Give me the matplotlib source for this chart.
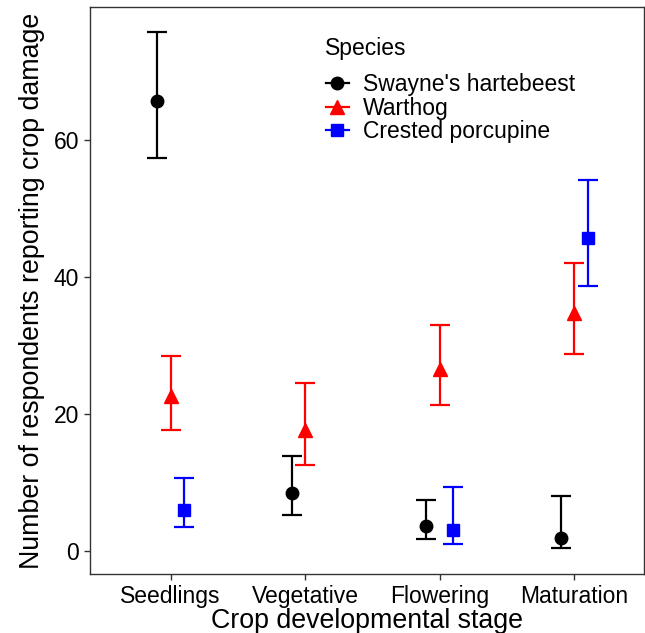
import matplotlib
matplotlib.use('Agg')
import matplotlib.pyplot as plt
import numpy as np
from matplotlib.lines import Line2D

plt.rcParams['font.family'] = ['Liberation Sans', 'DejaVu Sans']

stages = ['Seedlings', 'Vegetative', 'Flowering', 'Maturation']
species = ["Swayne's hartebeest", 'Warthog', 'Crested porcupine']

# means and error bar limits, per species, per stage (nan = not reported)
hartebeest = [65.7, 8.4, 3.6, 1.9]
hartebeest_lo = [57.3, 5.3, 1.7, 0.5]
hartebeest_hi = [75.8, 13.8, 7.4, 8.0]

warthog = [22.6, 17.7, 26.5, 34.7]
warthog_lo = [17.7, 12.6, 21.3, 28.8]
warthog_hi = [28.4, 24.5, 33.0, 42.1]

porcupine = [6.0, np.nan, 3.0, 45.7]
porcupine_lo = [3.5, np.nan, 1.0, 38.7]
porcupine_hi = [10.6, np.nan, 9.3, 54.2]

series = [
    (hartebeest, hartebeest_lo, hartebeest_hi, 'black', 'o', 9, -0.1),
    (warthog, warthog_lo, warthog_hi, 'red', '^', 10, 0.0),
    (porcupine, porcupine_lo, porcupine_hi, 'blue', 's', 8.5, 0.1),
]

fig = plt.figure(figsize=(6.45, 6.33), dpi=100)
ax = fig.add_axes([90/645, 1 - 574/633, 554/645, 567/633])

x = np.arange(1, len(stages) + 1)
handles = []
for (m, lo, hi, col, mk, ms, off) in series:
    m = np.array(m)
    lo = np.array(lo)
    hi = np.array(hi)
    ax.errorbar(x + off, m, yerr=[m - lo, hi - m], fmt='none', ecolor=col,
                elinewidth=1.6, capsize=7.5, capthick=1.6, zorder=2)
    ax.plot(x + off, m, linestyle='none', marker=mk, color=col, markersize=ms, zorder=3)
    handles.append(Line2D([0], [0], color=col, lw=1.6, marker=mk, markersize=ms))

ax.set_xlim(0.4, 4.52)
ax.set_ylim(-3.36, 79.4)
ax.set_xticks(x)
ax.set_xticklabels(stages)
ax.set_yticks([0, 20, 40, 60])

for s in ax.spines.values():
    s.set_color('#333333')
    s.set_linewidth(1.0)
ax.tick_params(axis='both', labelsize=16.5, colors='#333333', labelcolor='black',
               length=4, width=1.0, pad=4)

ax.set_xlabel('Crop developmental stage', fontsize=19.3, labelpad=0)
ax.set_ylabel('Number of respondents reporting crop damage', fontsize=19.3, labelpad=6)

# legend title drawn separately to get the ggplot-like gap
fig.text(325/645, 1 - 48/633, 'Species', fontsize=16.5, ha='left', va='center')
leg = ax.legend(handles, species, loc='upper left',
                bbox_to_anchor=(326/645, 1 - 73/633), bbox_transform=fig.transFigure,
                frameon=False, fontsize=16.5,
                handlelength=1.0, handletextpad=0.6, labelspacing=0.03,
                borderaxespad=0, borderpad=0)

fig.savefig('out.png', dpi=100)
